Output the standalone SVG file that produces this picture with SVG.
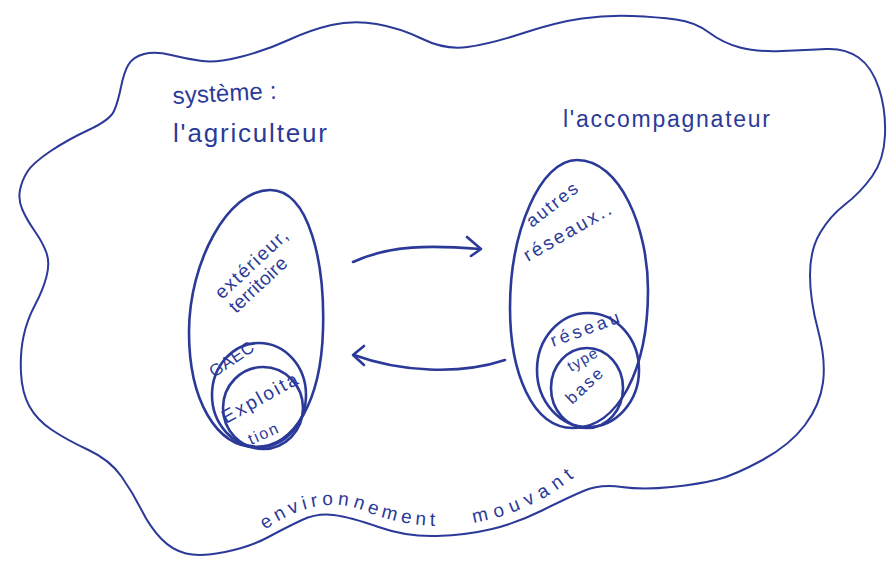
<svg xmlns="http://www.w3.org/2000/svg" xmlns:xlink="http://www.w3.org/1999/xlink" width="889" height="562" viewBox="0 0 889 562">
<style>
.ink{fill:none;stroke:#2b3a98;stroke-linecap:round;stroke-linejoin:round}
.thin{stroke-width:2}
.mid{stroke-width:2.6}
.t{fill:#2b3a98;font-family:"Liberation Sans","DejaVu Sans",sans-serif}
</style>
<defs>
<path id="envPath" d="M 265,530 C 295,508 330,498 362,510 C 400,526 440,530 478,522 C 520,514 555,496 592,462"/>
</defs>
<rect width="889" height="562" fill="#ffffff"/>
<g id="environnement">
<path class="ink thin" d="M 144,54 Q 155,51 171,55 Q 187,59 202,61 Q 217,63 242,56.5 Q 267,50 288.5,40 Q 310,30 331.5,25 Q 353,20 376.5,24 Q 400,28 422.5,39 Q 445,50 467.5,47 Q 490,44 523.5,33 Q 557,22 582,18.5 Q 607,15 632,16 Q 657,17 676,19.5 Q 695,22 709,32.5 Q 723,43 740,47.5 Q 757,52 782,51 Q 807,50 826,49 Q 845,48 858.5,57.5 Q 872,67 879,88.5 Q 886,110 885,135 Q 884,160 872,176.5 Q 860,193 845,204.5 Q 830,216 820,233 Q 810,250 810,275 Q 810,300 818,330 Q 826,360 823,382.5 Q 820,405 805,425 Q 790,445 762.5,460 Q 735,475 717.5,479.5 Q 700,484 671.5,487 Q 643,490 621.5,487 Q 600,484 583.5,491 Q 567,498 542,510.5 Q 517,523 492,529 Q 467,535 437,536 Q 407,537 378.5,527 Q 350,517 333.5,515 Q 317,513 302,520 Q 287,527 268.5,537 Q 250,547 225,552 Q 200,557 186,553.5 Q 172,550 161,538.5 Q 150,527 141.5,510 Q 133,493 121.5,476.5 Q 110,460 88.5,450 Q 67,440 52,430 Q 37,420 29.5,406.5 Q 22,393 21,373 Q 20,353 23.5,336.5 Q 27,320 35,305 Q 43,290 46.5,276.5 Q 50,263 46.5,253 Q 43,243 35,231.5 Q 27,220 22.5,210 Q 18,200 20,190 Q 22,180 27.5,171.5 Q 33,163 50,151.5 Q 67,140 88.5,130 Q 110,120 114,111 Q 118,102 121,87 Q 124,72 128.5,64.5 Q 133,57 144,54 Z"/>
<text class="t" font-size="19"><textPath xlink:href="#envPath"><tspan letter-spacing="4.4">environnement</tspan><tspan dx="34" letter-spacing="6.5">mouvant</tspan></textPath></text>
</g>
<g id="titre-agriculteur">
<text class="t" x="173" y="104" font-size="24" textLength="104" transform="rotate(-3 173 104)">système :</text>
<text class="t" x="173" y="142" font-size="26" textLength="154">l'agriculteur</text>
</g>
<g id="titre-accompagnateur">
<text class="t" x="563" y="127" font-size="23" textLength="207">l'accompagnateur</text>
</g>
<g id="systeme-agriculteur">
<path class="ink mid" d="M 270,190 C 310,190 325,265 323,330 C 321,400 295,447 256,447 C 216,447 189,400 189,332 C 189,262 228,190 270,190 Z"/>
<ellipse class="ink mid" cx="259" cy="395" rx="47" ry="52"/>
<ellipse class="ink mid" cx="263" cy="408" rx="40" ry="41"/>
<text class="t" x="222" y="300" font-size="19" textLength="92" transform="rotate(-43 222 300)">extérieur,</text>
<text class="t" x="236" y="314" font-size="19" textLength="72" transform="rotate(-43 236 314)">territoire</text>
<text class="t" x="214" y="378" font-size="17" textLength="50" transform="rotate(-34 214 378)">GAEC</text>
<text class="t" x="226" y="424" font-size="19" textLength="84" transform="rotate(-29 226 424)">Exploita</text>
<text class="t" x="251" y="445" font-size="16" textLength="31" transform="rotate(-24 251 445)">tion</text>
</g>
<g id="systeme-accompagnateur">
<path class="ink mid" d="M 577,160 C 620,160 648,228 648,290 C 648,370 618,428 573,428 C 532,428 510,372 510,308 C 510,232 540,160 577,160 Z"/>
<ellipse class="ink mid" cx="588" cy="370" rx="51" ry="57"/>
<ellipse class="ink mid" cx="587" cy="388" rx="36" ry="40"/>
<text class="t" x="532" y="228" font-size="18" textLength="60" transform="rotate(-38 532 228)">autres</text>
<text class="t" x="528" y="262" font-size="19" textLength="98" transform="rotate(-30 528 262)">réseaux..</text>
<text class="t" x="553" y="347" font-size="18" textLength="72" transform="rotate(-20 553 347)">réseau</text>
<text class="t" x="571" y="372" font-size="15" textLength="32" transform="rotate(-30 571 372)">type</text>
<text class="t" x="572" y="405" font-size="17" textLength="44" transform="rotate(-43 572 405)">base</text>
</g>
<g id="connecteurs">
<path class="ink mid" d="M 353,262 C 390,245 430,245 480,249"/>
<path class="ink mid" d="M 467,237 L 481,249 L 471,256"/>
<path class="ink mid" d="M 505,360 C 460,375 400,372 354,355"/>
<path class="ink mid" d="M 364,346 L 353,355 L 364,365"/>
</g>
</svg>
